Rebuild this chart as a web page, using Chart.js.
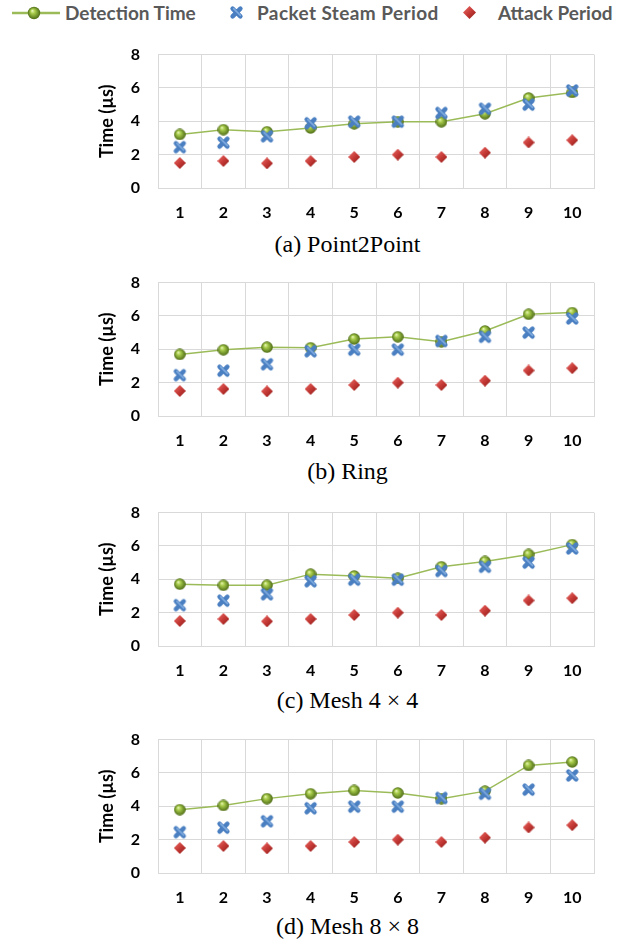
<!DOCTYPE html>
<html>
<head>
<meta charset="utf-8">
<script src="https://cdn.jsdelivr.net/npm/chart.js@4.4.1/dist/chart.umd.min.js"></script>
<style>
  body { margin: 0; background: #fff; width: 632px; height: 941px; position: relative; overflow: hidden; }
  .abs { position: absolute; }
  .lg { position: absolute; top: 2px; font: bold 19px Lato, sans-serif; color: #595959; line-height: 22px; white-space: nowrap; }
  .cap { position: absolute; left: 0; width: 695px; text-align: center; font: 24px "Liberation Serif", "DejaVu Serif", serif; color: #000; line-height: 24px; white-space: nowrap; }
</style>
</head>
<body>
<canvas id="lgLine" class="abs" width="48" height="14" style="left:12px;top:6px"></canvas>
<div class="lg" style="left:65px">Detection Time</div>
<canvas id="lgCross" class="abs" width="15" height="15" style="left:229px;top:5px"></canvas>
<div class="lg" style="left:257px;letter-spacing:0.4px">Packet Steam Period</div>
<canvas id="lgDiamond" class="abs" width="13" height="13" style="left:463px;top:6px"></canvas>
<div class="lg" style="left:498px">Attack Period</div>

<canvas id="c0" class="abs" width="632" height="201" style="left:0;top:27px"></canvas>
<div class="cap" style="top:232px">(a) Point2Point</div>
<canvas id="c1" class="abs" width="632" height="201" style="left:0;top:255px"></canvas>
<div class="cap" style="top:459px">(b) Ring</div>
<canvas id="c2" class="abs" width="632" height="201" style="left:0;top:485px"></canvas>
<div class="cap" style="top:688px">(c) Mesh 4 &times; 4</div>
<canvas id="c3" class="abs" width="632" height="201" style="left:0;top:712px"></canvas>
<div class="cap" style="top:914px">(d) Mesh 8 &times; 8</div>

<script>
const runs = ['1', '2', '3', '4', '5', '6', '7', '8', '9', '10'];
const packetPeriod = [2.45, 2.72, 3.1, 3.88, 3.98, 3.98, 4.5, 4.75, 5.0, 5.85];
const attackPeriod = [1.5, 1.62, 1.48, 1.62, 1.86, 2.0, 1.86, 2.12, 2.73, 2.87];
const detectionP2P = [3.21, 3.5, 3.37, 3.6, 3.85, 3.97, 3.97, 4.45, 5.4, 5.73];
const detectionRing = [3.69, 3.97, 4.13, 4.09, 4.62, 4.75, 4.45, 5.1, 6.1, 6.2];
const detectionMesh4 = [3.71, 3.64, 3.64, 4.31, 4.2, 4.06, 4.75, 5.07, 5.49, 6.08];
const detectionMesh8 = [3.8, 4.05, 4.46, 4.75, 4.95, 4.8, 4.46, 4.91, 6.45, 6.66];
const yTicks = [0, 2, 4, 6, 8];

const panels = [detectionP2P, detectionRing, detectionMesh4, detectionMesh8];

const plotLeft = 158;
const plotRight = 594;

// little marker images
function drawSphere(ctx, cx, cy, r) {
    const g = ctx.createRadialGradient(cx - r * 0.3, cy - r * 0.4, 0, cx, cy, r);
    g.addColorStop(0, '#f0fbc4');
    g.addColorStop(0.35, '#a9cd4c');
    g.addColorStop(1, '#4e6c16');
    ctx.fillStyle = g;
    ctx.beginPath();
    ctx.arc(cx, cy, r, 0, Math.PI * 2);
    ctx.fill();
}

function makeSphere() {
    const c = document.createElement('canvas');
    c.width = 12; c.height = 12;
    drawSphere(c.getContext('2d'), 6, 6, 5.8);
    return c;
}

function drawCross(ctx, s) {
    const p = s * 0.24;
    ctx.lineCap = 'round';
    ctx.lineWidth = s * 0.3;
    ctx.strokeStyle = '#4a7fc1';
    ctx.beginPath();
    ctx.moveTo(p, p); ctx.lineTo(s - p, s - p);
    ctx.moveTo(s - p, p); ctx.lineTo(p, s - p);
    ctx.stroke();
    ctx.lineWidth = s * 0.1;
    ctx.strokeStyle = 'rgba(150,190,235,0.7)';
    ctx.beginPath();
    ctx.moveTo(p + 1, p); ctx.lineTo(s - p, s - p - 1);
    ctx.stroke();
}

function makeCross() {
    const c = document.createElement('canvas');
    c.width = 15; c.height = 15;
    drawCross(c.getContext('2d'), 15);
    return c;
}

function drawDiamond(ctx, s) {
    const h = s / 2;
    const g = ctx.createLinearGradient(0, 0, s, s);
    g.addColorStop(0, '#ec6f6b');
    g.addColorStop(0.5, '#c63a36');
    g.addColorStop(1, '#8c1c19');
    ctx.fillStyle = g;
    ctx.beginPath();
    ctx.moveTo(h, 0); ctx.lineTo(s, h); ctx.lineTo(h, s); ctx.lineTo(0, h);
    ctx.closePath();
    ctx.fill();
}

function makeDiamond() {
    const c = document.createElement('canvas');
    c.width = 12; c.height = 12;
    drawDiamond(c.getContext('2d'), 12);
    return c;
}

const sphereImg = makeSphere();
const crossImg = makeCross();
const diamondImg = makeDiamond();

// legend icons
(function () {
    const l = document.getElementById('lgLine').getContext('2d');
    l.strokeStyle = '#9bbb59';
    l.lineWidth = 2.5;
    l.beginPath(); l.moveTo(0, 7); l.lineTo(48, 7); l.stroke();
    drawSphere(l, 22, 7, 6.2);
    drawCross(document.getElementById('lgCross').getContext('2d'), 15);
    drawDiamond(document.getElementById('lgDiamond').getContext('2d'), 13);
})();

const tickFont = { family: 'Lato', size: 16, weight: 'bold' };

panels.forEach(function (detection, i) {
    new Chart(document.getElementById('c' + i), {
        type: 'line',
        data: {
            labels: runs,
            datasets: [
                {
                    label: 'Detection Time',
                    data: detection,
                    borderColor: '#9bbb59',
                    borderWidth: 1.5,
                    pointStyle: sphereImg,
                    order: 3
                },
                {
                    label: 'Packet Steam Period',
                    data: packetPeriod,
                    showLine: false,
                    pointStyle: crossImg,
                    order: 1
                },
                {
                    label: 'Attack Period',
                    data: attackPeriod,
                    showLine: false,
                    pointStyle: diamondImg,
                    order: 2
                }
            ]
        },
        options: {
            responsive: false,
            animation: false,
            layout: { padding: { top: 10, right: 632 - plotRight, left: 0, bottom: 0 } },
            plugins: { legend: { display: false }, tooltip: { enabled: false } },
            scales: {
                x: {
                    offset: true,
                    grid: { offset: true, color: '#d9d9d9', drawTicks: false },
                    border: { color: '#d9d9d9' },
                    ticks: { color: '#000', font: tickFont, padding: 15 },
                    afterFit: function (scale) { scale.height = 40; }
                },
                y: {
                    min: 0,
                    max: 8,
                    afterBuildTicks: function (scale) { scale.ticks = yTicks.map(v => ({ value: v })); },
                    grid: { color: '#d9d9d9', drawTicks: false },
                    border: { color: '#d9d9d9' },
                    ticks: { color: '#000', font: tickFont, padding: 18 },
                    title: {
                        display: true,
                        text: 'Time (µs)',
                        color: '#000',
                        font: { family: 'Lato', size: 18, weight: 'bold' },
                        padding: { top: 96 }
                    },
                    afterFit: function (scale) { scale.width = plotLeft; }
                }
            }
        }
    });
});
</script>
</body>
</html>
